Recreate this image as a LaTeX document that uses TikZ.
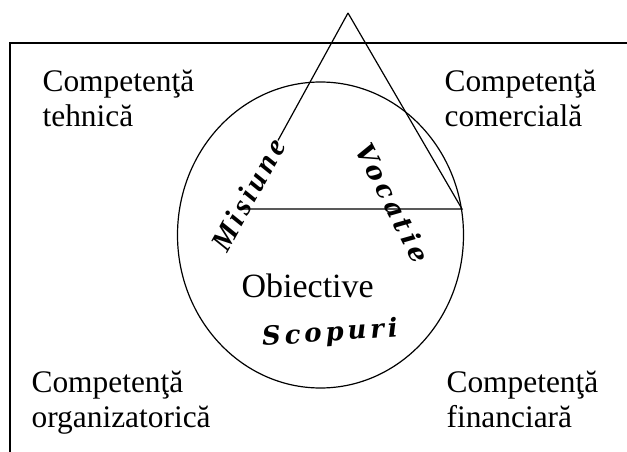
\documentclass[tikz,border=0pt]{standalone}
\usepackage{fontspec}
\setmainfont{Liberation Serif}
\newfontfamily\artwide[LetterSpace=15]{DejaVu Serif}
\newfontfamily\artnarrow[LetterSpace=12]{Liberation Serif}
\usetikzlibrary{positioning}

\begin{document}
\begin{tikzpicture}[x=1pt, y=-1pt, line width=1.2pt,
    comp/.style={anchor=base west, inner sep=0pt, align=left, font=\fontsize{31.4}{35}\selectfont},
    wordart/.style={inner sep=0pt, font=\artwide\bfseries\itshape\fontsize{26}{26}\selectfont}]
    \useasboundingbox (0,0) rectangle (627,452);

    % frame, open at the right and at the bottom
    \draw (10,452) -- (10,43) -- (627,43);

    \coordinate (apex)  at (348,13);
    \coordinate (left)  at (243,209);
    \coordinate (right) at (462,209);

    \draw (320.5,235) ellipse [x radius=143, y radius=153];

    % base anchor sits on the last line
    \node[comp]    (tehnica)  at (42,126)  {Competenţă\\tehnică};
    \node[comp]    (comerc)   at (444,126) {Competenţă\\comercială};
    \node[comp]    (organiz)  at (31,427)  {Competenţă\\organizatorică};
    \node[comp]    (financ)   at (446,427) {Competenţă\\financiară};
    \node[comp, font=\fontsize{34}{34}\selectfont] (obiective) at (241,297) {Obiective};

    \node[wordart, font=\artnarrow\bfseries\itshape\fontsize{30}{30}\selectfont, rotate=61] (misiune) at (248,195) {Misiune};
    \node[wordart, rotate=-63] (vocatie) at (393,203) {Vocatie};
    \node[wordart, rotate=4]   (scopuri) at (330,334) {Scopuri};

    % triangle
    \draw (apex) -- (misiune);
    \draw (apex) -- (right) -- (left);
\end{tikzpicture}
\end{document}
